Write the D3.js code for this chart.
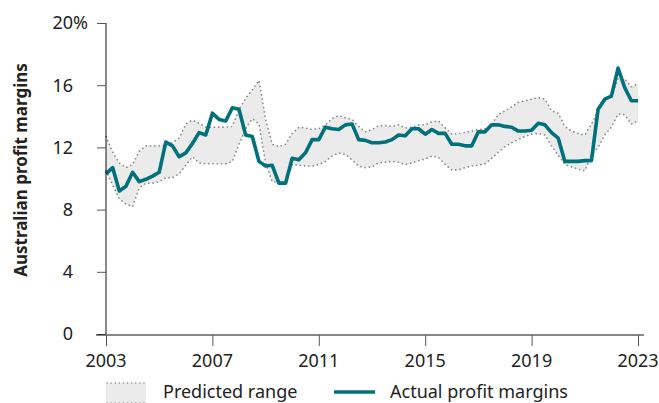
<!DOCTYPE html>
<html>
<head>
<meta charset="utf-8">
<script src="https://cdn.jsdelivr.net/npm/d3@7"></script>
<style>
  html, body { margin: 0; padding: 0; background: #fff; }
  svg text { font-family: "Noto Sans", sans-serif; fill: #222; }
</style>
</head>
<body>
<div id="chart"></div>
<script>
// quarterly series, 2003 Q1 .. 2023 Q1
var startYear = 2003;

var actual = [
  10.3, 10.7, 9.2, 9.5, 10.4, 9.8, 9.95, 10.15, 10.4, 12.35,
  12.1, 11.4, 11.65, 12.25, 12.95, 12.8, 14.2, 13.8, 13.7, 14.55,
  14.45, 12.8, 12.7, 11.1, 10.8, 10.85, 9.7, 9.7, 11.3, 11.2,
  11.65, 12.5, 12.5, 13.3, 13.2, 13.15, 13.45, 13.5, 12.5, 12.45,
  12.3, 12.3, 12.35, 12.5, 12.8, 12.75, 13.2, 13.2, 12.85, 13.15,
  12.9, 12.9, 12.2, 12.2, 12.1, 12.1, 13.0, 13.0, 13.45, 13.45,
  13.35, 13.3, 13.05, 13.05, 13.1, 13.55, 13.45, 12.95, 12.6, 11.1,
  11.1, 11.1, 11.15, 11.15, 14.45, 15.1, 15.3, 17.1, 15.85, 15.0,
  15.0
];

var upper = [
  12.7, 11.7, 11.0, 10.7, 10.9, 11.75, 12.1, 12.1, 12.1, 12.15,
  12.3, 12.6, 13.5, 13.75, 13.55, 13.3, 13.3, 13.3, 13.3, 13.35,
  14.45, 15.15, 15.7, 16.3, 13.8, 12.2, 12.05, 12.2, 12.9, 13.3,
  13.25, 13.15, 13.2, 13.45, 13.85, 14.05, 13.9, 13.8, 13.35, 13.0,
  13.15, 13.4, 13.4, 13.35, 13.45, 13.25, 13.3, 13.45, 13.45, 13.65,
  13.7, 13.25, 12.85, 12.9, 12.95, 13.05, 13.15, 13.2, 13.5, 14.1,
  14.35, 14.6, 14.9, 15.0, 15.1, 15.2, 15.1, 14.35, 14.2, 13.35,
  13.05, 12.9, 12.8, 13.5, 14.35, 15.0, 15.3, 16.4, 16.4, 15.9,
  16.1
];

var lower = [
  10.5, 9.6, 8.7, 8.35, 8.2, 9.4, 9.7, 9.7, 9.8, 10.05,
  10.05, 10.3, 10.85, 11.4, 11.0, 10.95, 10.95, 10.95, 10.95, 11.1,
  12.2, 13.2, 13.85, 13.5, 11.0, 9.8, 9.75, 9.7, 10.9, 10.85,
  10.8, 10.8, 10.9, 11.1, 11.45, 11.65, 11.55, 11.2, 10.8, 10.7,
  10.75, 11.0, 11.05, 11.1, 11.05, 10.9, 11.0, 11.15, 11.25, 11.45,
  11.35, 10.9, 10.55, 10.55, 10.7, 10.8, 10.85, 10.95, 11.3, 11.7,
  12.05, 12.3, 12.5, 12.7, 12.85, 12.9, 12.8, 12.1, 11.5, 10.9,
  10.75, 10.6, 10.5, 11.5, 12.0, 12.8, 13.3, 14.15, 14.1, 13.5,
  13.7
];

var xTicks = [2003, 2007, 2011, 2015, 2019, 2023];
var yTicks = [0, 4, 8, 12, 16, 20];
var yTitle = "Australian profit margins";
var legendLabels = ["Predicted range", "Actual profit margins"];

var width = 659, height = 403;
var lineColor = "#00707a";
var fontSize = "18px";

var data = actual.map(function (v, i) {
    return { date: startYear + i / 4, actual: v, upper: upper[i], lower: lower[i] };
});

var svg = d3.select("#chart").append("svg")
    .attr("width", width)
    .attr("height", height);

var x = d3.scaleLinear().domain([2003, 2023]).range([106, 638]);
var y = d3.scaleLinear().domain([0, 20]).range([334, 23]);

// predicted range band
svg.append("path")
    .datum(data)
    .attr("fill", "#ebebeb")
    .attr("d", d3.area()
        .x(function (d) { return x(d.date); })
        .y0(function (d) { return y(d.lower); })
        .y1(function (d) { return y(d.upper); }));

["upper", "lower"].forEach(function (k) {
    svg.append("path")
        .datum(data)
        .attr("fill", "none")
        .attr("stroke", "#8a8a8a")
        .attr("stroke-width", 1.7)
        .attr("stroke-linecap", "round")
        .attr("stroke-dasharray", "0.1 4.2")
        .attr("d", d3.line()
            .x(function (d) { return x(d.date); })
            .y(function (d) { return y(d[k]); }));
});

// actual line
svg.append("path")
    .datum(data)
    .attr("fill", "none")
    .attr("stroke", lineColor)
    .attr("stroke-width", 3.6)
    .attr("stroke-linejoin", "round")
    .attr("d", d3.line()
        .x(function (d) { return x(d.date); })
        .y(function (d) { return y(d.actual); }));

// y axis
var yAxis = svg.append("g")
    .attr("transform", "translate(106,0)")
    .call(d3.axisLeft(y).tickValues(yTicks).tickSize(9).tickFormat(""));
yAxis.select(".domain").attr("stroke", "#111").attr("d", "M0," + y(20) + "V" + y(0));
yAxis.selectAll(".tick line").attr("stroke", "#555");

svg.append("g").selectAll("text")
    .data(yTicks)
    .join("text")
    .attr("x", 73)
    .attr("y", function (d) { return y(d); })
    .attr("dy", "0.36em")
    .attr("text-anchor", "end")
    .style("font-size", fontSize)
    .text(function (d) { return d; });

svg.append("text")
    .attr("x", 73)
    .attr("y", y(20))
    .attr("dy", "0.36em")
    .style("font-size", fontSize)
    .text("%");

// x axis
var xAxis = svg.append("g")
    .attr("transform", "translate(0," + (y(0) + 1) + ")")
    .call(d3.axisBottom(x).tickValues(xTicks).tickSize(11).tickFormat(""));
xAxis.select(".domain").attr("stroke", "#111").attr("d", "M96,0H644");
xAxis.selectAll(".tick line").attr("stroke", "#555");

svg.append("g").selectAll("text")
    .data(xTicks)
    .join("text")
    .attr("x", function (d) { return x(d); })
    .attr("y", 367)
    .attr("text-anchor", "middle")
    .style("font-size", fontSize)
    .text(function (d) { return d; });

// y title
svg.append("text")
    .attr("transform", "translate(27,170) rotate(-90)")
    .attr("text-anchor", "middle")
    .style("font-size", "17px")
    .style("font-weight", "bold")
    .text(yTitle);

// legend
var lg = svg.append("g");
lg.append("rect")
    .attr("x", 106).attr("y", 383).attr("width", 40).attr("height", 24)
    .attr("fill", "#ebebeb");
[383, 403].forEach(function (yy) {
    lg.append("line")
        .attr("x1", 107).attr("x2", 146).attr("y1", yy).attr("y2", yy)
        .attr("stroke", "#8a8a8a").attr("stroke-width", 1.5)
        .attr("stroke-linecap", "round").attr("stroke-dasharray", "0.1 4");
});
lg.append("text")
    .attr("x", 163).attr("y", 398)
    .style("font-size", fontSize)
    .text(legendLabels[0]);
lg.append("line")
    .attr("x1", 334).attr("x2", 375).attr("y1", 392).attr("y2", 392)
    .attr("stroke", lineColor).attr("stroke-width", 3.6);
lg.append("text")
    .attr("x", 390).attr("y", 398)
    .style("font-size", fontSize)
    .text(legendLabels[1]);
</script>
</body>
</html>
